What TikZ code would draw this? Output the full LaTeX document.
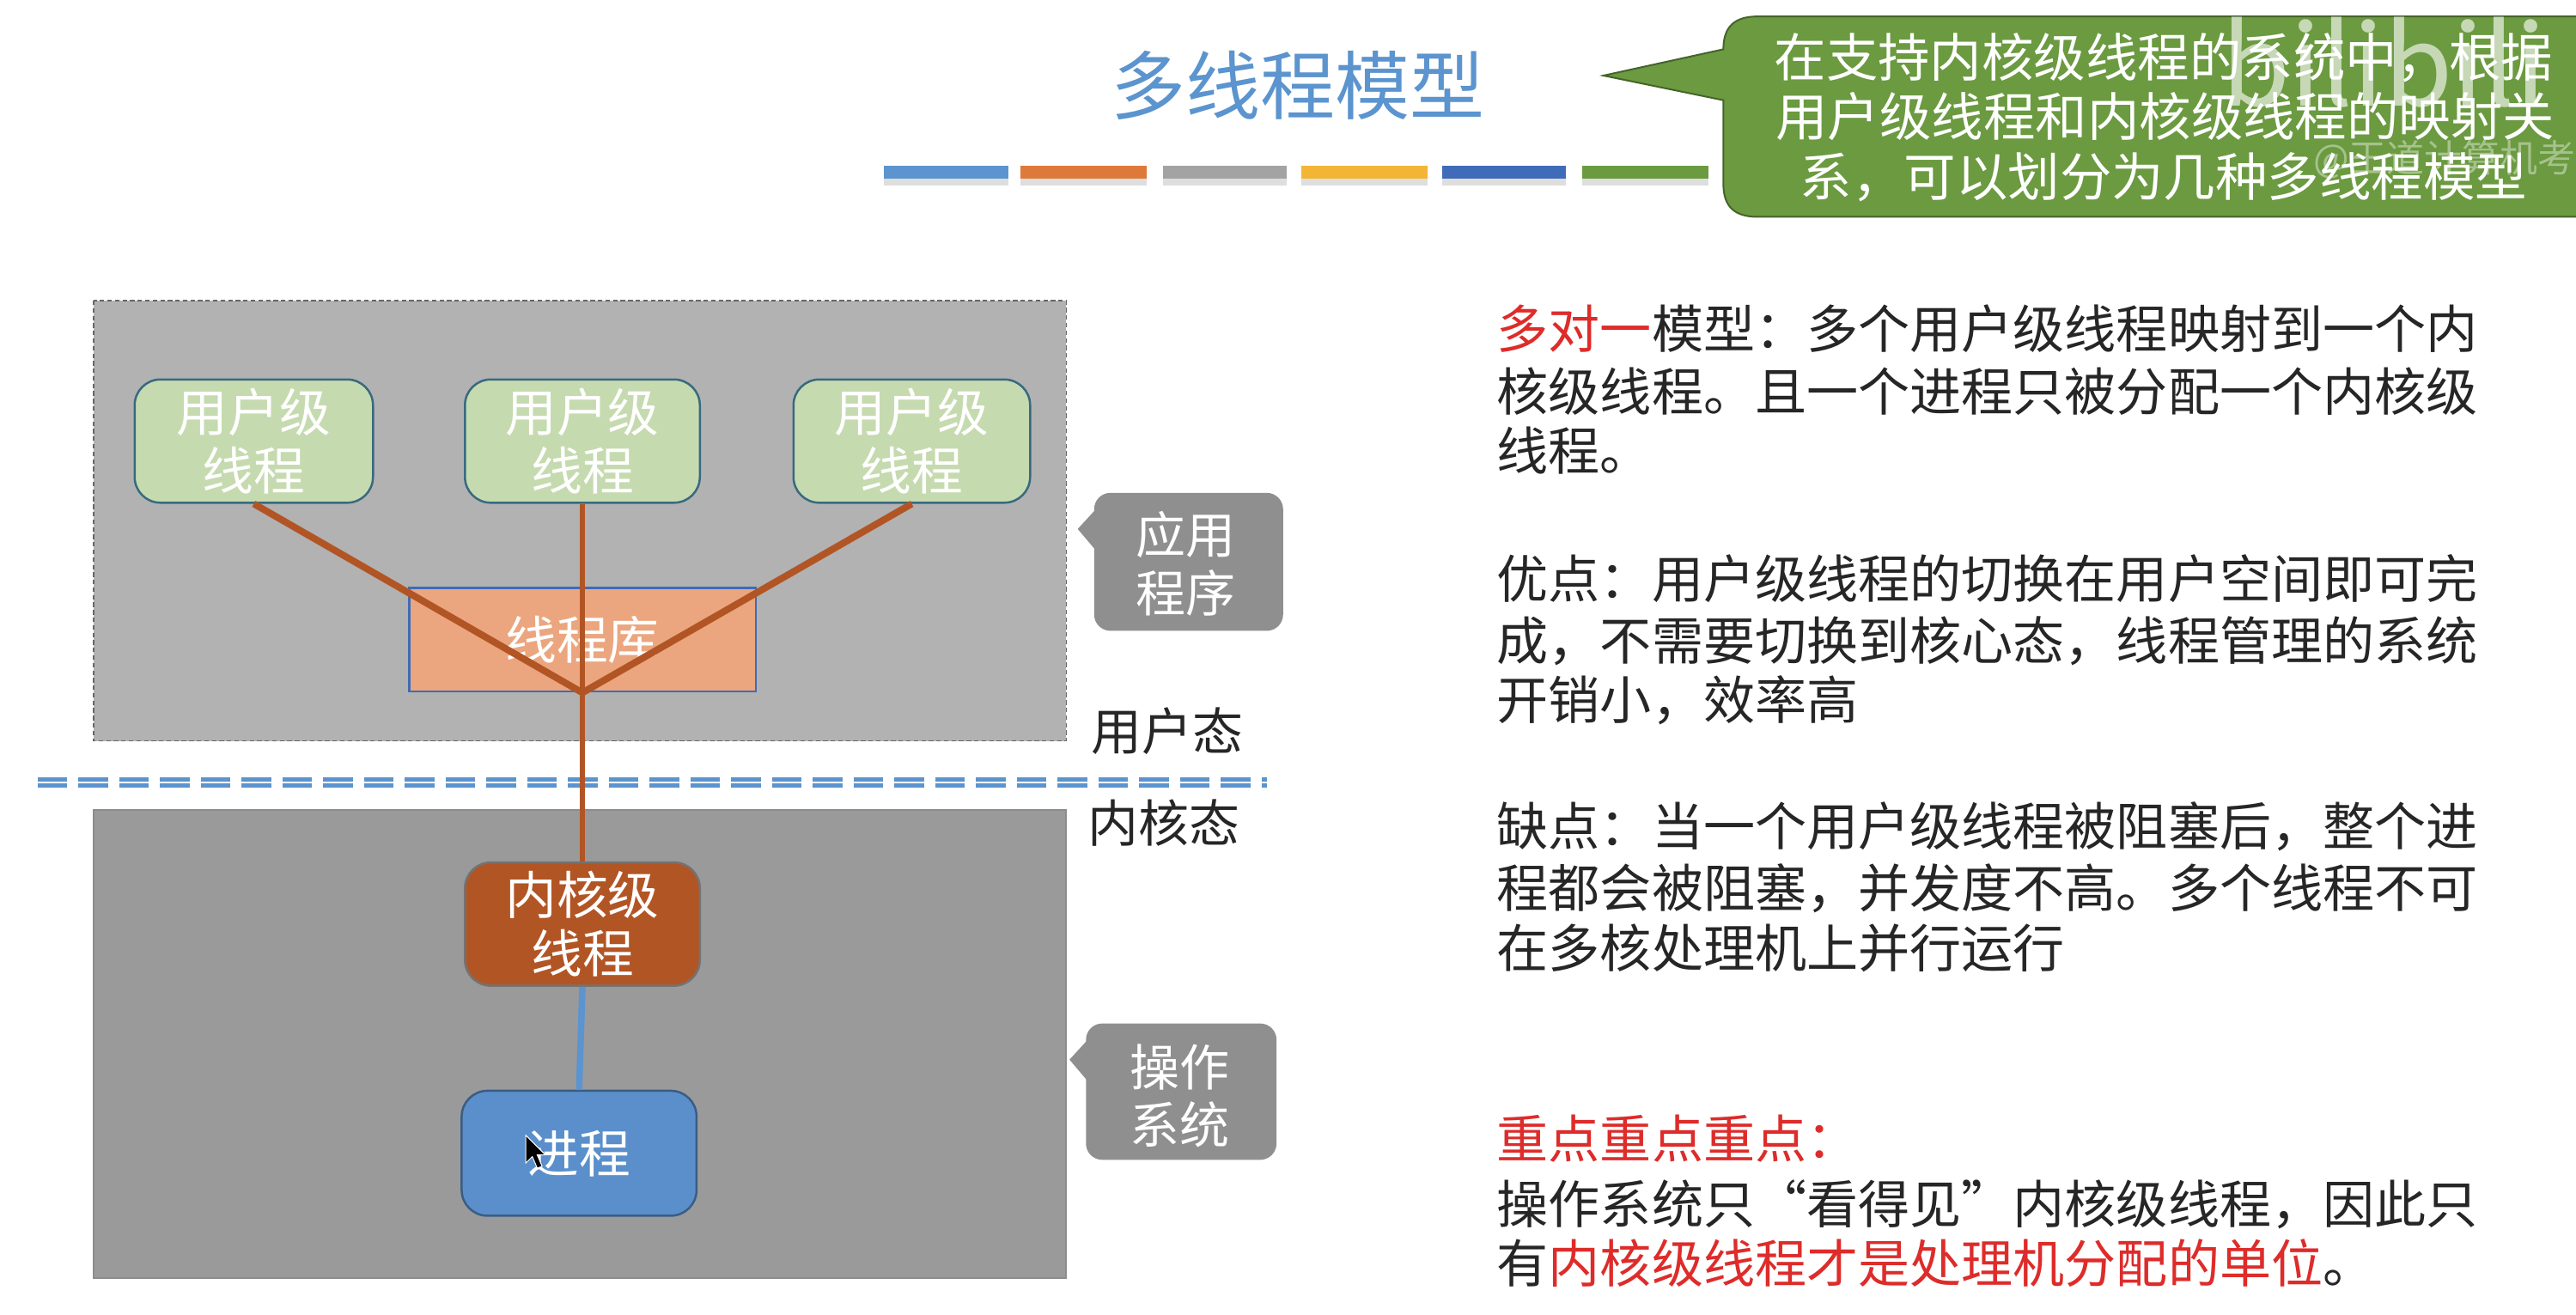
\documentclass[tikz,border=0pt]{standalone}
\usepackage{fontspec}
\setmainfont{Noto Sans CJK SC}
\newdimen\uu \uu=0.038253cm
\newcommand{\fsz}[1]{\fontsize{#1}{#1}\selectfont}
\newcommand{\fszb}[2]{\fontsize{#1}{#2}\selectfont}
\definecolor{tblue}{HTML}{5B94CE}
\definecolor{borange}{HTML}{DD7A3A}
\definecolor{bgray}{HTML}{A3A3A3}
\definecolor{byellow}{HTML}{F2B536}
\definecolor{bdblue}{HTML}{3F6BB8}
\definecolor{bgreen}{HTML}{6B9A40}
\definecolor{ugray}{HTML}{B2B2B2}
\definecolor{kgray}{HTML}{9B9A9B}
\definecolor{ugreen}{HTML}{C6DAB0}
\definecolor{uedge}{HTML}{386A80}
\definecolor{libfill}{HTML}{EBA67F}
\definecolor{rust}{HTML}{B25525}
\definecolor{procblue}{HTML}{5A8FCB}
\definecolor{calloutgray}{HTML}{8F8F90}
\definecolor{bodytxt}{HTML}{262626}
\definecolor{hot}{HTML}{DD2C2A}
\tikzset{
  x=\uu, y=-\uu,
  title/.style={inner sep=0pt,text=tblue,font=\fsz{49.5pt}},
  bar/.style={fill=#1,draw=none},
  barshadow/.style={fill=black!13,draw=none},
  greenline/.style={inner sep=0pt,text=white,font=\fsz{34.4pt}},
  threadbox/.style={rounded corners=0.6cm,minimum width=5.55cm,minimum height=2.87cm,inner sep=0pt,align=center,font=\fszb{34pt}{38.5pt},text=white},
  userbox/.style={threadbox,fill=ugreen,draw=uedge,line width=0.05cm},
  kernbox/.style={threadbox,fill=rust,draw=black!55,line width=0.05cm,minimum width=5.47cm},
  procbox/.style={threadbox,fill=procblue,draw=procblue!65!black,line width=0.05cm,minimum width=5.47cm,minimum height=2.91cm},
  libbox/.style={fill=libfill,draw=bdblue,line width=0.05cm,minimum width=8.07cm,minimum height=2.41cm,inner sep=0pt,text=white,font=\fsz{34pt}},
  thickrust/.style={draw=rust,line width=0.16cm},
  thinrust/.style={draw=rust,line width=0.13cm},
  bluelink/.style={draw=tblue,line width=0.15cm},
  modeline/.style={draw=tblue,line width=0.1cm,dash pattern=on 0.69cm off 0.26cm},
  graytag/.style={fill=calloutgray,rounded corners=0.38cm,draw=none},
  tagtip/.style={fill=calloutgray,draw=none},
  taglabel/.style={inner sep=0pt,text=white,align=center,font=\fszb{33pt}{38.5pt}},
  modelabel/.style={inner sep=0pt,anchor=west,text=black!85,font=\fsz{33.5pt}},
  bodyline/.style={inner sep=0pt,anchor=west,text=bodytxt,font=\fsz{34.2pt}},
  logomark/.style={inner sep=0pt,anchor=west,text=white,text opacity=0.62,font=\fsz{74pt}},
  ownermark/.style={inner sep=0pt,anchor=west,text=white,text opacity=0.4,font=\fsz{25pt}},
}
\begin{document}
\begin{tikzpicture}
\useasboundingbox (0,0) rectangle (1568,800);
\fill[white] (0,0) rectangle (1568,800);
% title
\node[title] (ttl) at (790,52) {多线程模型};
% bars
\foreach \a/\b in {538/614,621/698,708/783,792/869,878/953,963/1040}{
  \fill[barshadow] (\a,109) rectangle (\b,113);
}
\fill[bar=tblue] (538,101) rectangle (614,109);
\fill[bar=borange] (621,101) rectangle (698,109);
\fill[bar=bgray] (708,101) rectangle (783,109);
\fill[bar=byellow] (792,101) rectangle (869,109);
\fill[bar=bdblue] (878,101) rectangle (953,109);
\fill[bar=bgreen] (963,101) rectangle (1040,109);
% green callout
\filldraw[fill=bgreen,draw=bgreen!65!black,line width=0.04cm] (976,46) -- (1049,30) .. controls (1049,16) and (1056,10) .. (1070,10) -- (1569,10) -- (1569,132) -- (1070,132) .. controls (1056,132) and (1049,126) .. (1049,112) -- (1049,61) -- cycle;
\node[greenline] (c1) at (1317,35) {在支持内核级线程的系统中，根据};
\node[greenline] (c2) at (1318,71) {用户级线程和内核级线程的映射关};
\node[greenline] (c3) at (1317,108) {系，可以划分为几种多线程模型};
% watermarks
\node[logomark] (wm1) at (1352,38) {bilibili};
\node[ownermark] (wm2) at (1408,97) {@王道计算机考};
% panels
\fill[ugray] (57,183) rectangle (649,451);
\draw[black!60,line width=0.03cm,densely dashed] (57,183) rectangle (649,451);
\fill[kgray] (57,493) rectangle (649,778);
\draw[black!45,line width=0.04cm] (57,493) rectangle (649,778);
% mode line
\draw[modeline] (23,474.3) -- (771,474.3);
\draw[modeline] (23,478.2) -- (771,478.2);
% nodes
\node[libbox] (lib) at (354.5,389.5) {线程库};
\node[userbox] (u1) at (154.5,268.5) {用户级\\线程};
\node[userbox,minimum width=5.47cm] (u2) at (354.5,268.5) {用户级\\线程};
\node[userbox,minimum width=5.51cm] (u3) at (555,268.5) {用户级\\线程};
\node[kernbox] (kern) at (354.5,562.5) {内核级\\线程};
\node[procbox] (proc) at (352.5,702) {进程};
% connectors
\draw[thickrust] (u1.south) -- (lib.south);
\draw[thickrust] (u3.south) -- (lib.south);
\draw[thinrust] (u2.south) -- (kern.north);
\draw[bluelink] (kern.south) -- (proc.north);
% cursor
\fill[black,draw=white,line width=0.02cm] (320,691) -- (320,708) -- (324,704) -- (327,711) -- (330,710) -- (327,703) -- (332,703) -- cycle;
% gray tags
\fill[graytag] (666,300) rectangle (781,384);
\fill[tagtip] (656,322) -- (667,310) -- (667,335) -- cycle;
\node[taglabel] (t1) at (722,343) {应用\\程序};
\fill[graytag] (661,623) rectangle (777,706);
\fill[tagtip] (651,645) -- (662,633) -- (662,658) -- cycle;
\node[taglabel] (t2) at (718,667) {操作\\系统};
\node[modelabel] (um) at (664,445) {用户态};
\node[modelabel] (km) at (662,501) {内核态};
% right text
\node[bodyline] (l1) at (911,200) {\textcolor{hot}{多对一}模型：多个用户级线程映射到一个内};
\node[bodyline] (l2) at (911,238) {核级线程。且一个进程只被分配一个内核级};
\node[bodyline] (l3) at (911,274) {线程。};
\node[bodyline] (l4) at (911,352) {优点：用户级线程的切换在用户空间即可完};
\node[bodyline] (l5) at (911,390) {成，不需要切换到核心态，线程管理的系统};
\node[bodyline] (l6) at (911,426) {开销小，效率高};
\node[bodyline] (l7) at (911,503) {缺点：当一个用户级线程被阻塞后，整个进};
\node[bodyline] (l8) at (911,541) {程都会被阻塞，并发度不高。多个线程不可};
\node[bodyline] (l9) at (911,577) {在多核处理机上并行运行};
\node[bodyline,text=hot] (l10) at (911,693) {重点重点重点：};
\node[bodyline] (l11) at (911,733) {操作系统只“看得见”内核级线程，因此只};
\node[bodyline] (l12) at (911,769) {有\textcolor{hot}{内核级线程才是处理机分配的单位}。};
\end{tikzpicture}
\end{document}
